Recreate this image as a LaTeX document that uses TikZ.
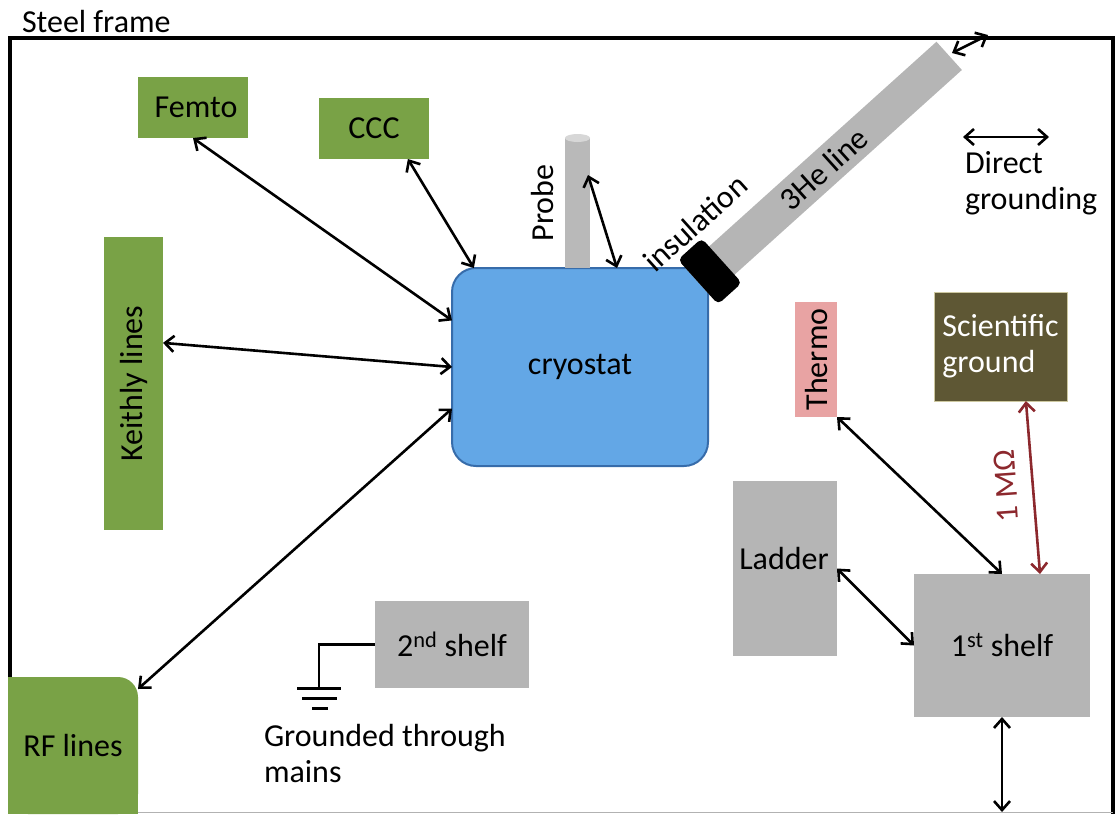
\documentclass[tikz,border=0pt]{standalone}
\usepackage{fontspec}
\setmainfont{Carlito}
\usepackage{graphicx}
\usetikzlibrary{arrows.meta,calc}
\definecolor{gfill}{RGB}{121,162,70}
\definecolor{grayfill}{RGB}{181,181,181}
\definecolor{cryofill}{RGB}{99,167,230}
\definecolor{cryoedge}{RGB}{55,108,170}
\definecolor{pinkfill}{RGB}{232,163,163}
\definecolor{olivefill}{RGB}{94,87,52}
\definecolor{oliveedge}{RGB}{205,200,160}
\definecolor{darkred}{RGB}{140,40,45}
\definecolor{probegray}{RGB}{185,185,185}
\definecolor{probetop}{RGB}{215,215,215}
\begin{document}
\begin{tikzpicture}[x=1pt,y=-1pt,
  every node/.style={font=\fontsize{32}{36}\selectfont, inner sep=0pt, outer sep=0pt},
  >={Straight Barb[length=9pt,width=16pt]},
  arr/.style={<->, line width=2.6pt, black},
  gbox/.style={fill=gfill},
  greybox/.style={fill=grayfill}]
\useasboundingbox (0,0) rectangle (1118,814);

% frame
\draw[line width=3.5pt] (10,700) -- (10,38) -- (1113,38) -- (1113,814);
\draw[gray!60, line width=1pt] (10,812) -- (1113,812);
\node[anchor=base west] (sf) at (22,32) {Steel frame};

% green boxes
\node[gbox, minimum width=110pt, minimum height=61pt] (femto) at (193,107.5) {\hspace*{6pt}Femto};
\node[gbox, minimum width=110pt, minimum height=61pt] (ccc) at (374,128.5) {CCC};
\node[gbox, minimum width=59pt, minimum height=293pt] (keith) at (133.5,383.5) {\rotatebox{90}{Keithly lines}};
\fill[gfill] (8,677) rectangle (74,814);
\fill[gfill] (8,745) rectangle (138,814);
\node[gbox, rounded corners=20pt, minimum width=130pt, minimum height=137pt] (rf) at (73,745.5) {RF lines};

% cryostat
\node[fill=cryofill, draw=cryoedge, line width=2pt, rounded corners=24pt,
      minimum width=256pt, minimum height=198pt] (cryo) at (580,367) {cryostat};

% probe
\node[fill=probegray, minimum width=25pt, minimum height=130pt] (probe) at (577.5,203) {};
\fill[probetop] (probe.north) ellipse (12.5pt and 4pt);
\node[rotate=90] (probelbl) at (542,203) {Probe};

% 3He line and insulation
\node[rotate=42, anchor=west, fill=grayfill, minimum width=338pt, minimum height=38pt] (he) at (698,282) {3He line};
\node[rotate=42, anchor=west, fill=black, rounded corners=5pt, minimum width=32pt, minimum height=60pt] (ins) at (698,282) {};
\node[rotate=42] (inslbl) at (695,223) {insulation};

% legend
\coordinate (dga) at (963,137);
\coordinate (dgb) at (1049,137);
\draw[arr] (dga) -- (dgb);
\node[anchor=north west, align=left] (dglbl) at (965,151) {Direct\\grounding};

% right side boxes
\node[fill=pinkfill, minimum width=42pt, minimum height=115pt] (thermo) at (816,359.5) {\rotatebox{90}{Thermo}};
\node[fill=olivefill, draw=oliveedge, line width=1pt, text=white, align=left,
      minimum width=133pt, minimum height=109pt] (sci) at (1000.5,346.5) {Scientific\\ground};
\node[greybox, minimum width=104pt, minimum height=175pt] (ladder) at (785,568.5) {};
\node (ladderlbl) at (784,558) {Ladder};
\node[greybox, minimum width=176pt, minimum height=143pt] (shelf1) at (1002,645.5) {1\textsuperscript{st} shelf};
\node[greybox, minimum width=154pt, minimum height=87pt] (shelf2) at (452,644.5) {2\textsuperscript{nd} shelf};

% ground symbol
\coordinate (gnd) at (319,688);
\draw[line width=2.2pt] (shelf2.west) -| (gnd);
\draw[line width=3pt] (297,688) -- (341,688);
\draw[line width=3pt] (302,698) -- (337,698);
\draw[line width=3pt] (312,708) -- (328,708);
\node[anchor=north west, align=left] (gl) at (264,724) {Grounded through\\mains};

% connectors
\draw[arr] (femto.south) -- (cryo.160);
\draw[arr] (ccc.-42) -- (cryo.137);
\draw[arr] (keith.54) -- (cryo.west);
\draw[arr] (rf.41) -- (cryo.198.6);
\coordinate (pa) at (588,175);
\draw[arr] (pa) -- ([xshift=37pt]cryo.north);
\coordinate (ta) at (952,53);
\coordinate (tb) at (988,35);
\draw[arr] (ta) -- (tb);
\draw[arr] (thermo.south east) -- (shelf1.north);
\draw[arr, draw=darkred] (sci.-65) -- (shelf1.62);
\node[text=darkred, rotate=94] (mohm) at (1006,486) {1 MΩ};
\draw[arr] (ladder.east) -- (shelf1.west);
\coordinate (bot) at (1002,812);
\draw[arr] (shelf1.south) -- (bot);
\end{tikzpicture}
\end{document}
